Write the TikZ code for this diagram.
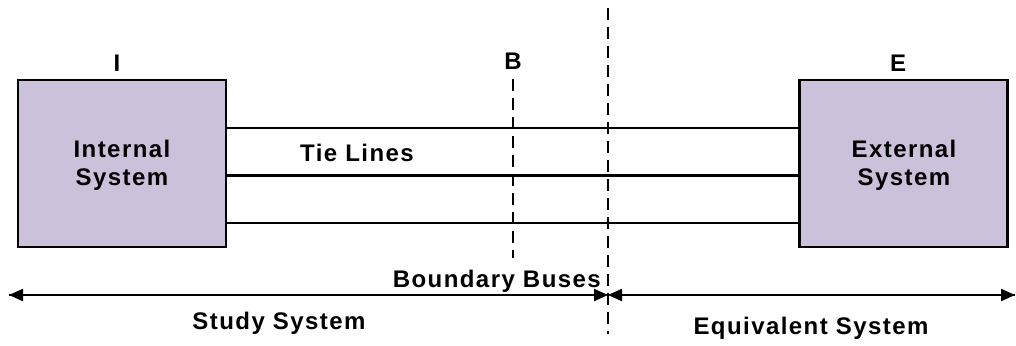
\documentclass[tikz,border=0pt]{standalone}
\usepackage{fontspec}
\setmainfont{Liberation Sans}[LetterSpace=6]
\usetikzlibrary{arrows.meta}
\definecolor{boxfill}{HTML}{CCC1DA}
\begin{document}
\begin{tikzpicture}[x=1pt,y=-1pt,
  sysbox/.style={draw=black,line width=2.6pt,fill=boxfill,minimum width=208pt,minimum height=167pt,inner sep=0pt},
  lbl/.style={font=\fontsize{24}{28}\selectfont\bfseries,inner sep=0pt,anchor=base},
  tie/.style={line width=2.2pt},
  bus/.style={line width=2.2pt,dash pattern=on 12pt off 7pt},
  span/.style={line width=2.2pt,-{Triangle[length=14pt,width=12pt]}}]
\useasboundingbox (0,0) rectangle (1016,345);
% the two systems
\node[sysbox] (int) at (122,163.5) {};
\node[sysbox] (ext) at (903.5,163.5) {};
\node[lbl,align=center] (intlbl) at (122,185) {Internal\\System};
\node[lbl,align=center] (extlbl) at (904,185) {External\\System};
\node[lbl] (li) at (117,71) {I};
\node[lbl] (lb) at (513,70) {B};
\node[lbl] (le) at (898,71) {E};
% tie lines between the systems
\coordinate (t1a) at (226,128); \coordinate (t1b) at (800,128);
\coordinate (t2a) at (226,175.5); \coordinate (t2b) at (800,175.5);
\coordinate (t3a) at (226,223); \coordinate (t3b) at (800,223);
\draw[tie] (t1a) -- (t1b);
\draw[tie] (t2a) -- (t2b);
\draw[tie] (t3a) -- (t3b);
\node[lbl] (tl) at (357,161) {Tie Lines};
% boundary bus and partition lines
\coordinate (bt) at (513,79); \coordinate (bb) at (513,258);
\draw[bus] (bt) -- (bb);
\coordinate (pt) at (608,8); \coordinate (pb) at (608,334);
\draw[bus] (pt) -- (pb);
\node[lbl,anchor=base east] (bbus) at (601,287) {Boundary Buses};
% extent arrows
\coordinate (am) at (608,295);
\coordinate (al) at (9,295);
\coordinate (ar) at (1015,295);
\draw[span] (am) -- (al);
\draw[span] (al) -- (am);
\draw[span] (am) -- (ar);
\draw[span] (ar) -- (am);
\node[lbl] (study) at (279,329) {Study System};
\node[lbl] (equiv) at (811,334) {Equivalent System};
\end{tikzpicture}
\end{document}
